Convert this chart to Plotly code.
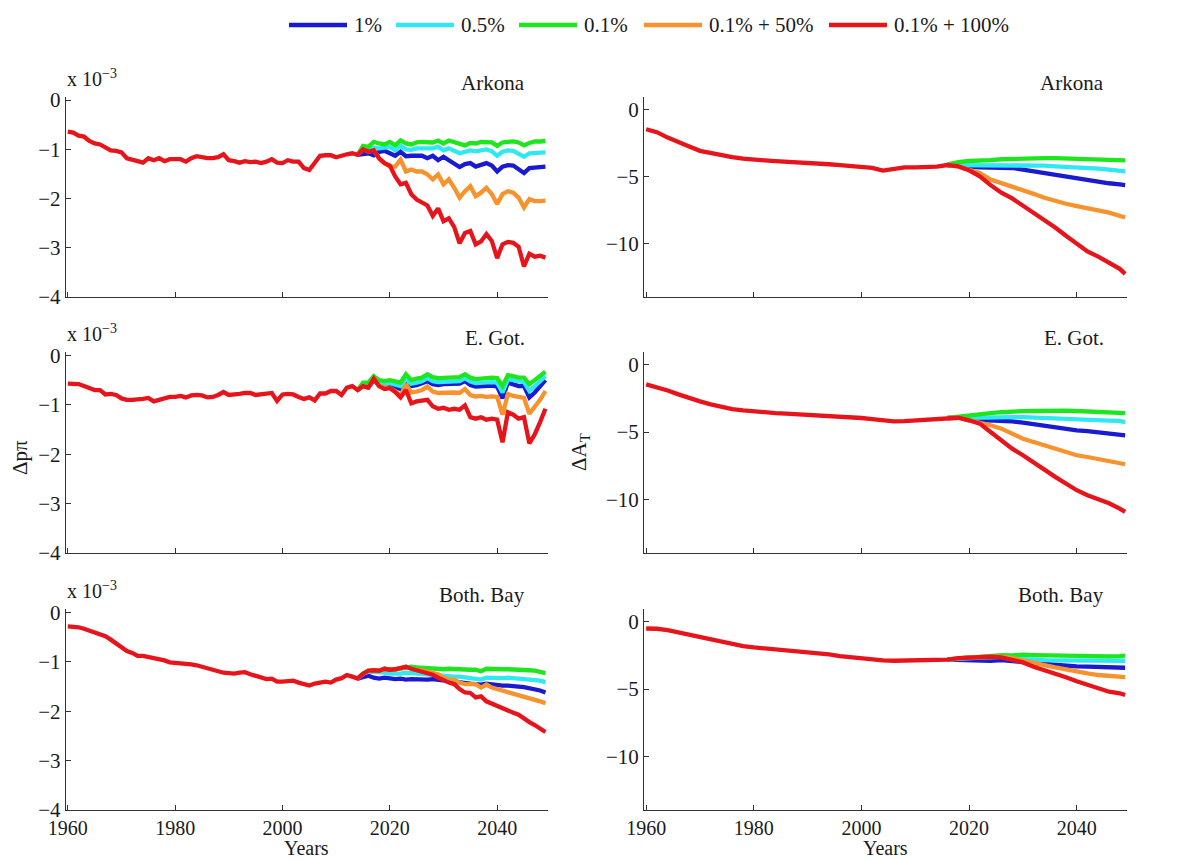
import plotly.graph_objects as go

W, H = 1196, 860

# ---------------- data ----------------
SCENARIOS = ["1%", "0.5%", "0.1%", "0.1% + 50%", "0.1% + 100%"]
COLORS = ["#1a1ad2", "#30e8f2", "#1ee61e", "#f7922c", "#e8141c"]
PANEL_NAMES = ["Arkona", "E. Got.", "Both. Bay"]

YEARS_L = list(range(1960, 2050))
SCEN_YEARS_L = list(range(2014, 2050))
YEARS_R = list(range(1960, 2049, 2)) + [2049]
SCEN_YEARS_R = list(range(2016, 2049, 2)) + [2049]

X_TICKS = [1960, 1980, 2000, 2020, 2040]
Y_TICKS_L = [0, -1, -2, -3, -4]
Y_TICKS_R = [0, -5, -10]

# ---- left column (delta p pi, x 1e-3) ----
ark_l_red = [-0.64, -0.66, -0.72, -0.74, -0.83, -0.88, -0.90, -0.95, -1.02, -1.03,
             -1.06, -1.18, -1.20, -1.24, -1.27, -1.18, -1.22, -1.18, -1.24, -1.20,
             -1.20, -1.20, -1.25, -1.18, -1.14, -1.17, -1.18, -1.18, -1.16, -1.10,
             -1.22, -1.24, -1.27, -1.24, -1.26, -1.25, -1.28, -1.25, -1.20, -1.27,
             -1.28, -1.22, -1.25, -1.25, -1.38, -1.42, -1.28, -1.13, -1.12, -1.12,
             -1.16, -1.12, -1.10, -1.08, -1.11, -1.00, -1.05, -1.02, -1.18, -1.28,
             -1.33, -1.55, -1.71, -1.68, -1.91, -2.02, -2.08, -2.14, -2.35, -2.20,
             -2.46, -2.40, -2.58, -2.91, -2.70, -2.66, -2.93, -2.87, -2.72, -2.86,
             -3.21, -2.93, -2.88, -2.90, -2.98, -3.38, -3.12, -3.18, -3.16, -3.20]
ark_l_blue = [-1.11, -1.10, -1.08, -1.12, -1.05, -1.03, -1.08, -1.13, -1.05, -1.14, -1.13, -1.12,
              -1.13, -1.18, -1.13, -1.22, -1.15, -1.22, -1.30, -1.36, -1.30, -1.28, -1.35,
              -1.32, -1.28, -1.33, -1.45, -1.35, -1.32, -1.33, -1.40, -1.48, -1.38, -1.38,
              -1.36, -1.35]
ark_l_cyan = [-1.11, -1.00, -1.00, -0.97, -0.98, -0.97, -0.95, -1.02, -0.93, -1.00, -1.01, -0.98,
              -0.98, -1.00, -0.98, -0.95, -1.02, -0.98, -1.03, -1.08, -1.05, -1.02, -1.04,
              -1.02, -1.00, -1.04, -1.13, -1.05, -1.02, -1.03, -1.08, -1.15, -1.08, -1.07,
              -1.07, -1.06]
ark_l_green = [-1.11, -0.93, -0.95, -0.85, -0.88, -0.90, -0.85, -0.92, -0.82, -0.88, -0.90, -0.86,
               -0.85, -0.85, -0.86, -0.82, -0.88, -0.82, -0.86, -0.90, -0.92, -0.87, -0.88,
               -0.85, -0.85, -0.86, -0.93, -0.86, -0.85, -0.84, -0.86, -0.92, -0.87, -0.84,
               -0.84, -0.83]
ark_l_orange = [-1.11, -1.00, -1.05, -1.02, -1.18, -1.28, -1.35, -1.35, -1.21, -1.45, -1.41, -1.45,
                -1.45, -1.51, -1.61, -1.51, -1.71, -1.61, -1.78, -1.98, -1.85, -1.75, -1.95,
                -1.88, -1.78, -1.91, -2.11, -1.91, -1.85, -1.88, -1.98, -2.18, -2.01, -2.05,
                -2.05, -2.04]

egot_l_red = [-0.57, -0.57, -0.58, -0.62, -0.67, -0.70, -0.70, -0.79, -0.78, -0.80,
              -0.87, -0.90, -0.90, -0.90, -0.88, -0.86, -0.93, -0.90, -0.86, -0.84,
              -0.84, -0.82, -0.85, -0.81, -0.80, -0.81, -0.85, -0.84, -0.80, -0.74,
              -0.80, -0.80, -0.78, -0.76, -0.76, -0.80, -0.79, -0.77, -0.76, -0.92,
              -0.79, -0.78, -0.79, -0.84, -0.88, -0.85, -0.91, -0.77, -0.77, -0.72,
              -0.72, -0.80, -0.65, -0.62, -0.70, -0.62, -0.65, -0.47, -0.62, -0.68,
              -0.66, -0.74, -0.85, -0.70, -0.97, -0.93, -0.92, -0.90, -1.03, -1.08,
              -1.06, -1.10, -1.08, -1.10, -1.01, -1.25, -1.28, -1.25, -1.30, -1.28,
              -1.30, -1.76, -1.15, -1.20, -1.28, -1.25, -1.78, -1.60, -1.35, -1.08]
egot_l_blue = [-0.70, -0.62, -0.65, -0.50, -0.58, -0.62, -0.60, -0.63, -0.68, -0.55, -0.62, -0.60,
               -0.57, -0.52, -0.58, -0.60, -0.58, -0.58, -0.58, -0.57, -0.52, -0.60, -0.63,
               -0.62, -0.62, -0.61, -0.63, -0.87, -0.55, -0.58, -0.62, -0.62, -0.85, -0.75,
               -0.62, -0.50]
egot_l_cyan = [-0.70, -0.60, -0.62, -0.47, -0.55, -0.58, -0.56, -0.58, -0.62, -0.48, -0.57, -0.55,
               -0.52, -0.46, -0.52, -0.54, -0.53, -0.52, -0.53, -0.52, -0.46, -0.53, -0.56,
               -0.55, -0.55, -0.54, -0.55, -0.75, -0.48, -0.50, -0.54, -0.54, -0.72, -0.63,
               -0.52, -0.42]
egot_l_green = [-0.70, -0.55, -0.55, -0.42, -0.50, -0.52, -0.50, -0.52, -0.55, -0.38, -0.50, -0.47,
                -0.45, -0.38, -0.44, -0.46, -0.45, -0.44, -0.45, -0.44, -0.38, -0.45, -0.48,
                -0.46, -0.46, -0.45, -0.46, -0.62, -0.40, -0.42, -0.45, -0.45, -0.58, -0.50,
                -0.42, -0.33]
egot_l_orange = [-0.70, -0.62, -0.65, -0.47, -0.62, -0.65, -0.66, -0.72, -0.82, -0.58, -0.75, -0.73,
                 -0.70, -0.63, -0.73, -0.76, -0.75, -0.76, -0.75, -0.76, -0.68, -0.80, -0.83,
                 -0.82, -0.84, -0.83, -0.84, -1.20, -0.78, -0.82, -0.85, -0.86, -1.18, -1.05,
                 -0.90, -0.72]

both_l_red = [-0.28, -0.28, -0.30, -0.33, -0.37, -0.42, -0.44, -0.48, -0.55, -0.62,
              -0.70, -0.78, -0.82, -0.88, -0.88, -0.90, -0.92, -0.95, -0.97, -1.01,
              -1.02, -1.03, -1.02, -1.05, -1.07, -1.10, -1.15, -1.18, -1.20, -1.22,
              -1.23, -1.24, -1.22, -1.21, -1.25, -1.28, -1.32, -1.35, -1.34, -1.40,
              -1.40, -1.40, -1.38, -1.42, -1.46, -1.48, -1.44, -1.42, -1.40, -1.42,
              -1.36, -1.33, -1.27, -1.30, -1.34, -1.24, -1.18, -1.17, -1.18, -1.14,
              -1.16, -1.15, -1.13, -1.10, -1.14, -1.17, -1.20, -1.22, -1.26, -1.32,
              -1.38, -1.42, -1.45, -1.55, -1.62, -1.63, -1.72, -1.70, -1.80, -1.85,
              -1.88, -1.93, -1.98, -2.03, -2.07, -2.15, -2.22, -2.28, -2.35, -2.42]
both_l_blue = [-1.34, -1.30, -1.28, -1.32, -1.34, -1.32, -1.34, -1.35, -1.34, -1.36, -1.35, -1.36,
               -1.37, -1.36, -1.35, -1.37, -1.38, -1.39, -1.40, -1.42, -1.44, -1.44, -1.45,
               -1.46, -1.44, -1.46, -1.47, -1.48, -1.48, -1.50, -1.50, -1.51, -1.53, -1.56,
               -1.58, -1.62]
both_l_cyan = [-1.34, -1.24, -1.20, -1.20, -1.22, -1.22, -1.24, -1.25, -1.24, -1.22, -1.23, -1.25,
               -1.26, -1.27, -1.27, -1.27, -1.28, -1.29, -1.30, -1.30, -1.32, -1.33, -1.35,
               -1.36, -1.32, -1.33, -1.33, -1.33, -1.32, -1.33, -1.33, -1.34, -1.35, -1.37,
               -1.38, -1.41]
both_l_green = [-1.34, -1.24, -1.18, -1.17, -1.18, -1.14, -1.16, -1.15, -1.13, -1.10, -1.10, -1.11,
                -1.12, -1.13, -1.13, -1.14, -1.15, -1.14, -1.15, -1.14, -1.15, -1.16, -1.16,
                -1.19, -1.14, -1.15, -1.15, -1.15, -1.15, -1.15, -1.16, -1.16, -1.17, -1.18,
                -1.20, -1.23]
both_l_orange = [-1.34, -1.24, -1.18, -1.17, -1.18, -1.14, -1.16, -1.15, -1.13, -1.10, -1.14, -1.17,
                 -1.18, -1.20, -1.22, -1.25, -1.32, -1.36, -1.36, -1.42, -1.45, -1.44, -1.45,
                 -1.52, -1.46, -1.52, -1.55, -1.58, -1.60, -1.63, -1.66, -1.70, -1.73, -1.77,
                 -1.80, -1.84]

# ---- right column (delta A_T) ----
ark_r_red = [-1.48, -1.70, -2.10, -2.40, -2.77, -3.09, -3.26, -3.43, -3.56, -3.68,
             -3.78, -3.80, -3.86, -3.89, -3.92, -3.95, -4.02, -4.09, -4.15, -4.21,
             -4.27, -4.37, -4.57, -4.44, -4.32, -4.32, -4.30, -4.27, -4.15, -4.25,
             -4.54, -4.99, -5.65, -6.22, -6.64, -7.16, -7.70, -8.27, -8.81, -9.43,
             -10.00, -10.60, -10.99, -11.41, -11.90, -12.27]
ark_r_blue = [-4.15, -4.25, -4.27, -4.32, -4.32, -4.35, -4.37, -4.49, -4.62, -4.74, -4.86, -5.04,
              -5.16, -5.28, -5.41, -5.51, -5.60, -5.65]
ark_r_cyan = [-4.15, -4.15, -4.12, -4.12, -4.12, -4.12, -4.12, -4.14, -4.17, -4.20, -4.25, -4.28,
              -4.32, -4.37, -4.42, -4.50, -4.57, -4.62]
ark_r_green = [-4.10, -3.93, -3.85, -3.78, -3.78, -3.72, -3.68, -3.65, -3.63, -3.63, -3.63, -3.65,
               -3.68, -3.70, -3.75, -3.73, -3.78, -3.80]
ark_r_orange = [-4.15, -4.25, -4.50, -4.75, -5.23, -5.48, -5.73, -5.98, -6.30, -6.59, -6.84, -7.04,
                -7.21, -7.33, -7.53, -7.70, -7.95, -8.07]

egot_r_red = [-1.46, -1.66, -1.91, -2.20, -2.48, -2.72, -2.95, -3.14, -3.29, -3.39,
              -3.47, -3.54, -3.59, -3.63, -3.67, -3.71, -3.76, -3.81, -3.86, -3.91,
              -3.96, -4.04, -4.15, -4.21, -4.19, -4.13, -4.08, -4.03, -3.96, -3.94,
              -4.13, -4.38, -5.00, -5.62, -6.24, -6.73, -7.23, -7.80, -8.34, -8.84,
              -9.33, -9.70, -10.00, -10.30, -10.70, -10.94]
egot_r_blue = [-3.96, -3.94, -4.08, -4.10, -4.13, -4.13, -4.21, -4.31, -4.43, -4.55, -4.68, -4.78,
               -4.88, -4.93, -5.00, -5.07, -5.17, -5.25]
egot_r_cyan = [-3.96, -3.90, -3.95, -3.92, -3.89, -3.89, -3.89, -3.90, -3.94, -3.97, -4.01, -4.04,
               -4.08, -4.10, -4.13, -4.15, -4.18, -4.26]
egot_r_green = [-3.96, -3.85, -3.76, -3.68, -3.59, -3.53, -3.47, -3.45, -3.44, -3.41, -3.39, -3.41,
                -3.44, -3.46, -3.49, -3.50, -3.51, -3.59]
egot_r_orange = [-3.96, -3.94, -4.13, -4.30, -4.50, -4.75, -5.12, -5.50, -5.74, -5.99, -6.24, -6.49,
                 -6.73, -6.86, -7.03, -7.15, -7.30, -7.40]

both_r_red = [-0.50, -0.52, -0.62, -0.79, -0.97, -1.16, -1.36, -1.53, -1.68, -1.81,
              -1.91, -1.98, -2.03, -2.10, -2.18, -2.28, -2.35, -2.43, -2.55, -2.65,
              -2.75, -2.82, -2.87, -2.90, -2.90, -2.87, -2.85, -2.85, -2.82, -2.70,
              -2.65, -2.62, -2.60, -2.65, -2.85, -3.02, -3.34, -3.59, -3.84, -4.13,
              -4.43, -4.70, -5.00, -5.20, -5.32, -5.45]
both_r_blue = [-2.82, -2.85, -2.87, -2.87, -2.90, -2.85, -2.95, -3.02, -3.07, -3.14, -3.22, -3.27,
               -3.32, -3.34, -3.37, -3.37, -3.39, -3.42]
both_r_cyan = [-2.82, -2.75, -2.70, -2.66, -2.65, -2.60, -2.72, -2.78, -2.82, -2.85, -2.87, -2.88,
               -2.90, -2.90, -2.90, -2.90, -2.90, -2.90]
both_r_green = [-2.82, -2.70, -2.65, -2.62, -2.55, -2.48, -2.50, -2.45, -2.48, -2.50, -2.52, -2.54,
                -2.55, -2.56, -2.57, -2.57, -2.55, -2.52]
both_r_orange = [-2.82, -2.70, -2.65, -2.62, -2.60, -2.60, -2.70, -2.85, -3.02, -3.22, -3.39, -3.56,
                 -3.71, -3.84, -3.96, -4.03, -4.06, -4.11]

LEFT = [
    (ark_l_blue, ark_l_cyan, ark_l_green, ark_l_orange, ark_l_red),
    (egot_l_blue, egot_l_cyan, egot_l_green, egot_l_orange, egot_l_red),
    (both_l_blue, both_l_cyan, both_l_green, both_l_orange, both_l_red),
]
RIGHT = [
    (ark_r_blue, ark_r_cyan, ark_r_green, ark_r_orange, ark_r_red),
    (egot_r_blue, egot_r_cyan, egot_r_green, egot_r_orange, egot_r_red),
    (both_r_blue, both_r_cyan, both_r_green, both_r_orange, both_r_red),
]

# ---------------- layout helpers ----------------
def px(x):
    return x / W

def py(y):
    return 1 - y / H

FONT = "Liberation Serif, Times New Roman, serif"
TXT = "#1a1a1a"
AX = "#333333"
FS = 21
TFS = 20

COL_X = [(65.7, 547.6), (644.0, 1127.3)]
ROW_Y = [(96.7, 297.0), (352.0, 553.0), (609.0, 810.0)]

fig = go.Figure()
layout = dict(
    width=W, height=H, autosize=False,
    margin=dict(l=0, r=0, t=0, b=0, pad=0, autoexpand=False),
    paper_bgcolor="white", plot_bgcolor="white",
    showlegend=False,
    font=dict(family=FONT, size=FS, color=TXT),
)

annotations = []
shapes = []

idx = 0
for r in range(3):
    for c in range(2):
        idx += 1
        xa = "xaxis" if idx == 1 else f"xaxis{idx}"
        ya = "yaxis" if idx == 1 else f"yaxis{idx}"
        xr = "x" if idx == 1 else f"x{idx}"
        yr = "y" if idx == 1 else f"y{idx}"
        x0, x1 = COL_X[c]
        y0, y1 = ROW_Y[r]
        layout[xa] = dict(
            domain=[px(x0), px(x1)], anchor=yr,
            range=[1959.6, 2049.4],
            tickvals=X_TICKS, ticktext=[str(v) for v in X_TICKS],
            showticklabels=(r == 2),
            ticks="inside", ticklen=5, tickcolor=AX, tickwidth=1,
            showline=True, linecolor=AX, linewidth=1,
            showgrid=False, zeroline=False, automargin=False,
            ticklabelstandoff=0,
            tickfont=dict(family=FONT, size=TFS, color=TXT),
        )
        if c == 0:
            yt = Y_TICKS_L
            yrange = [-4.0, 0.07]
        else:
            yt = Y_TICKS_R
            yrange = [-14.0, 0.95]
        layout[ya] = dict(
            domain=[py(y1), py(y0)], anchor=xr,
            range=yrange,
            tickvals=yt,
            ticktext=[("\u2212" + str(-v)) if v < 0 else str(v) for v in yt],
            ticks="inside", ticklen=5, tickcolor=AX, tickwidth=1,
            showline=True, linecolor=AX, linewidth=1,
            showgrid=False, zeroline=False, automargin=False,
            tickfont=dict(family=FONT, size=TFS + 1, color=TXT),
        )

        series = LEFT[r] if c == 0 else RIGHT[r]
        full_x = YEARS_L if c == 0 else YEARS_R
        scen_x = SCEN_YEARS_L if c == 0 else SCEN_YEARS_R
        for k, (name, col) in enumerate(zip(SCENARIOS, COLORS)):
            xs = full_x if k == 4 else scen_x
            fig.add_trace(go.Scatter(
                x=xs, y=series[k], mode="lines", name=name,
                line=dict(color=col, width=4.3),
                xaxis=xr, yaxis=yr, showlegend=False,
                hoverinfo="skip",
            ))

        # panel title
        annotations.append(dict(
            text=PANEL_NAMES[r], xref="paper", yref="paper",
            x=px(x1 - 21), y=py(y0 - 14), xanchor="right", yanchor="middle",
            showarrow=False, font=dict(family=FONT, size=FS, color=TXT),
        ))
        if c == 0:
            annotations.append(dict(
                text="x 10<sup>\u22123</sup>", xref="paper", yref="paper",
                x=px(x0 - 1), y=py(y0 - 19), xanchor="left", yanchor="middle",
                showarrow=False, font=dict(family=FONT, size=20, color=TXT),
            ))

# axis titles
for c in range(2):
    x0, x1 = COL_X[c]
    annotations.append(dict(
        text="Years", xref="paper", yref="paper",
        x=px((x0 + x1) / 2), y=py(859.5), xanchor="center", yanchor="bottom",
        showarrow=False, borderpad=0,
        font=dict(family=FONT, size=20, color=TXT),
    ))
annotations.append(dict(
    text="\u0394p\u03c0", xref="paper", yref="paper",
    x=px(20), y=py(458), xanchor="center", yanchor="middle", textangle=-90,
    showarrow=False, font=dict(family=FONT, size=FS, color=TXT),
))
annotations.append(dict(
    text="\u0394A<sub>T</sub>", xref="paper", yref="paper",
    x=px(580), y=py(452), xanchor="center", yanchor="middle", textangle=-90,
    showarrow=False, font=dict(family=FONT, size=FS, color=TXT),
))

# legend (top, horizontal)
LEG_Y = 25
LEG_LINE_X = [289, 396, 519, 644, 829]
for name, col, lx in zip(SCENARIOS, COLORS, LEG_LINE_X):
    shapes.append(dict(
        type="line", xref="paper", yref="paper",
        x0=px(lx), x1=px(lx + 58), y0=py(LEG_Y), y1=py(LEG_Y),
        line=dict(color=col, width=4.3),
    ))
    annotations.append(dict(
        text=name, xref="paper", yref="paper",
        x=px(lx + 63), y=py(LEG_Y), xanchor="left", yanchor="middle",
        showarrow=False, font=dict(family=FONT, size=FS, color=TXT),
    ))

layout["annotations"] = annotations
layout["shapes"] = shapes
fig.update_layout(**layout)

fig.write_html(
    "out.html",
    config={"displayModeBar": False},
    post_script="document.body.style.margin='0';document.body.style.padding='0';",
)
